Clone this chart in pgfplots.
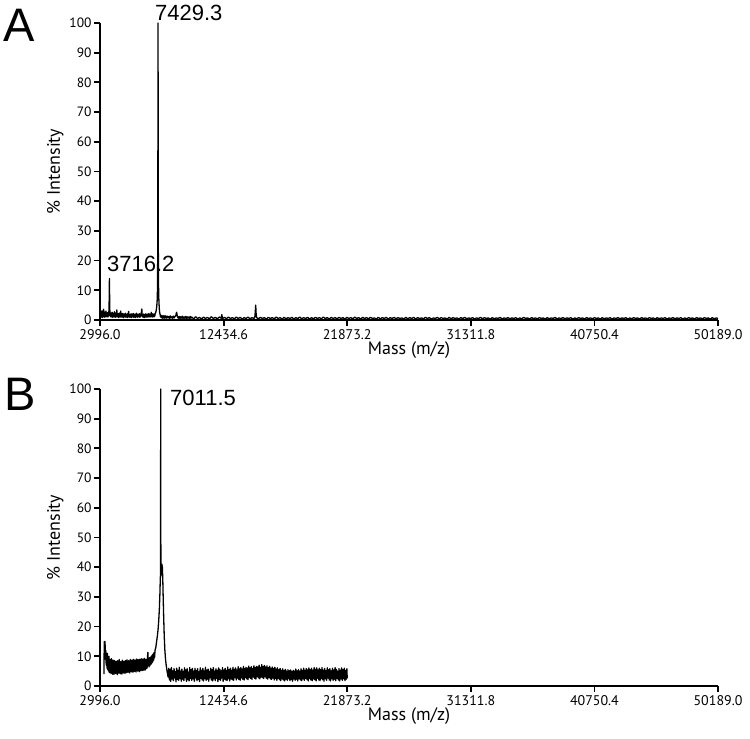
\documentclass[border=0pt]{standalone}
\usepackage{fontspec}
\setmainfont{Liberation Sans}
\newfontfamily\myr{PT Sans}
\usepackage{pgfplots}
\pgfplotsset{compat=1.18}

\pgfplotsset{
  msaxis/.style={
    scale only axis,
    width=618bp, height=297bp,
    anchor=south west,
    axis lines=left,
    axis line style={line width=2bp, -},
    tick style={line width=1.8bp, black},
    tick align=outside,
    major tick length=6bp,
    xmin=2996, xmax=50189,
    ymin=0, ymax=100,
    scaled x ticks=false,
    xtick={2996,12434.6,21873.2,31311.8,40750.4,50189},
    xticklabels={2996.0,12434.6,21873.2,31311.8,40750.4,50189.0},
    ytick={0,10,20,30,40,50,60,70,80,90,100},
    yticklabels={0,10,20,30,40,50,60,70,80,90,100},
    x tick label style={font=\fontsize{14bp}{16bp}\myr, yshift=0bp},
    y tick label style={font=\fontsize{13.5bp}{15bp}\myr, xshift=1bp},
    xlabel={Mass (m/z)},
    ylabel={\% Intensity},
    label style={font=\fontsize{18bp}{20bp}\myr},
    xlabel style={yshift=5bp},
    ylabel style={yshift=-1bp},
    clip=false,
  },
  spec/.style={black, line width=1.3bp, mark=none, line join=round},
}

\begin{document}
\begin{tikzpicture}
\useasboundingbox (0,0) rectangle (750bp,739bp);

\node[anchor=base west, font=\fontsize{47bp}{49bp}\selectfont, inner sep=0] at (3bp,697bp) {A};
\node[anchor=base west, font=\fontsize{47bp}{49bp}\selectfont, inner sep=0] at (4bp,328bp) {B};

% panel A
\begin{axis}[msaxis, at={(100bp,419bp)}]
\addplot[spec] coordinates {
(3000,0.4)(3030,2.1)(3060,0.9)(3090,2.8)(3120,1.2)(3150,3.1)(3180,0.8)(3210,2.4)(3240,1.3)(3270,3.6)
(3300,1.0)(3330,2.2)(3360,0.9)(3390,2.7)(3420,1.4)(3450,3.0)(3480,1.1)(3510,2.0)(3540,1.2)(3570,2.5)
(3600,1.0)(3630,2.3)(3660,1.4)(3690,4.5)(3716,14)(3740,4.0)(3770,1.3)(3800,2.4)(3830,1.0)(3860,2.1)
(3890,1.2)(3920,2.6)(3950,0.9)(3980,2.0)(4010,1.1)(4040,2.3)(4070,1.0)(4100,2.8)(4130,1.2)(4160,2.1)
(4190,0.9)(4220,2.4)(4250,1.3)(4280,3.4)(4310,1.0)(4340,2.0)(4370,1.2)(4400,2.2)(4430,0.8)(4460,1.9)
(4490,1.1)(4520,2.5)(4550,1.0)(4580,3.0)(4610,1.2)(4640,2.0)(4670,0.9)(4700,2.2)(4730,1.1)(4760,1.8)
(4790,0.8)(4820,2.1)(4850,1.0)(4880,1.9)(4910,1.2)(4940,2.3)(4970,0.9)(5000,1.8)(5030,1.1)(5060,2.0)
(5090,0.8)(5120,2.2)(5150,1.0)(5180,2.9)(5210,1.1)(5240,1.8)(5270,0.9)(5300,2.0)(5330,1.2)(5360,1.7)
(5390,0.8)(5420,2.1)(5450,1.0)(5480,1.9)(5510,1.1)(5540,2.2)(5570,0.9)(5600,1.8)(5630,1.2)(5660,2.0)
(5690,0.8)(5720,1.9)(5750,1.0)(5780,2.3)(5810,1.1)(5840,1.7)(5870,0.9)(5900,2.0)(5930,1.2)(5960,1.8)
(5990,1.0)(6020,2.1)(6050,0.9)(6080,1.9)(6110,1.3)(6150,2.4)(6190,3.7)(6220,1.2)(6250,1.8)(6280,0.9)
(6310,2.0)(6340,1.1)(6370,1.7)(6400,0.8)(6430,1.9)(6460,1.0)(6490,2.1)(6520,1.2)(6550,1.8)(6580,0.9)
(6610,2.0)(6640,1.1)(6670,1.7)(6700,1.0)(6730,2.2)(6760,1.1)(6790,1.8)(6820,1.0)(6850,2.0)(6880,1.2)
(6910,2.6)(6940,1.1)(6970,1.9)(7000,1.0)(7030,2.1)(7060,1.2)(7090,1.8)(7120,1.0)(7150,2.0)(7180,1.3)
(7210,2.2)(7250,2.5)(7290,3.2)(7330,4.5)(7360,6.5)(7390,11)(7410,30)(7429,100)(7445,28)(7465,12)
(7490,7)(7520,4.0)(7550,2.6)(7580,2.0)(7610,1.1)(7640,1.6)(7670,0.8)(7700,1.5)(7730,0.7)(7760,1.4)
(7790,0.6)(7820,1.3)(7850,0.7)(7880,1.5)(7910,0.6)(7940,1.2)(7970,0.7)(8000,1.4)(8060,0.6)(8120,1.3)
(8180,0.7)(8240,1.2)(8300,0.5)(8360,1.4)(8420,0.7)(8480,1.1)(8540,0.6)(8600,1.3)(8660,0.7)(8720,1.2)
(8780,1.4)(8820,2.2)(8850,2.6)(8880,1.8)(8920,1.0)(8980,0.6)(9040,1.2)(9100,0.5)(9160,1.1)(9220,0.6)
(9280,1.3)(9340,0.5)(9400,1.0)(9460,0.6)(9520,1.2)(9580,0.5)(9640,1.1)(9700,0.6)(9760,1.0)(9820,0.5)
(9880,1.2)(9940,0.6)(10000,1.0)(10150,0.4)(10300,1.1)(10450,0.5)(10600,0.9)(10750,0.3)(10900,1.0)
(11050,0.5)(11200,0.9)(11350,0.4)(11500,1.1)(11650,0.5)(11800,0.9)(11950,0.4)(12100,1.0)(12250,0.6)
(12300,1.8)(12350,0.5)(12500,0.9)(12650,0.4)(12800,1.0)(12950,0.5)(13100,0.8)(13250,0.4)(13400,1.0)
(13550,0.5)(13700,0.9)(13850,0.3)(14000,0.8)(14150,0.5)(14300,1.0)(14450,0.4)(14600,0.8)(14750,0.5)
(14820,1.0)(14850,2.5)(14886,5.0)(14920,2.0)(14960,0.8)(15100,0.4)(15250,0.9)(15400,0.5)(15550,0.8)
(15700,0.3)(15850,0.9)(16000,0.5)(16150,0.8)(16300,0.4)(16450,1.0)(16600,0.5)(16750,0.8)(16900,0.3)
(17050,0.9)(17200,0.4)(17350,0.8)(17500,0.5)(17650,0.9)(17800,0.3)(17950,0.8)(18100,0.5)(18250,1.0)
(18400,0.4)(18550,0.8)(18700,0.5)(18850,0.9)(19000,0.3)(19150,0.8)(19300,0.4)(19450,0.9)(19600,0.5)
(19750,0.8)(19900,0.4)(20050,1.0)(20200,0.5)(20350,0.8)(20500,0.3)(20650,0.9)(20800,0.5)(20950,0.8)
(21100,0.4)(21250,0.9)(21400,0.5)(21550,0.8)(21700,0.3)(21850,0.9)(22000,0.5)(22150,0.8)(22300,0.4)
(22450,1.0)(22600,0.5)(22750,0.8)(22900,0.3)(23050,0.9)(23200,0.5)(23350,0.8)(23500,0.4)(23650,0.9)
(23800,0.5)(23950,0.7)(24100,0.3)(24250,0.9)(24400,0.4)(24550,0.8)(24700,0.5)(24850,0.9)(25000,0.3)
(25150,0.8)(25300,0.5)(25450,0.9)(25600,0.4)(25750,0.8)(25900,0.5)(26050,0.7)(26200,0.3)(26350,0.9)
(26500,0.4)(26650,0.8)(26800,0.5)(26950,0.9)(27100,0.3)(27250,0.8)(27400,0.5)(27550,0.7)(27700,0.4)
(27850,0.9)(28000,0.5)(28150,0.8)(28300,0.3)(28450,0.7)(28600,0.5)(28750,0.9)(28900,0.4)(29050,0.8)
(29200,0.5)(29350,0.7)(29500,0.3)(29650,0.9)(29800,0.4)(29950,0.8)(30100,0.5)(30250,0.7)(30400,0.3)
(30550,0.8)(30700,0.5)(30850,0.9)(31000,0.4)(31150,0.7)(31300,0.5)(31450,0.8)(31600,0.3)(31750,0.7)
(31900,0.5)(32050,0.9)(32200,0.4)(32350,0.8)(32500,0.5)(32650,0.7)(32800,0.3)(32950,0.8)(33100,0.4)
(33250,0.7)(33400,0.5)(33550,0.9)(33700,0.3)(33850,0.7)(34000,0.5)(34150,0.8)(34300,0.4)(34450,0.7)
(34600,0.5)(34750,0.8)(34900,0.3)(35050,0.7)(35200,0.4)(35350,0.9)(35500,0.5)(35650,0.7)(35800,0.3)
(35950,0.8)(36100,0.5)(36250,0.7)(36400,0.4)(36550,0.8)(36700,0.5)(36850,0.7)(37000,0.3)(37150,0.8)
(37300,0.4)(37450,0.7)(37600,0.5)(37750,0.9)(37900,0.3)(38050,0.7)(38200,0.5)(38350,0.8)(38500,0.4)
(38650,0.7)(38800,0.5)(38950,0.8)(39100,0.3)(39250,0.7)(39400,0.4)(39550,0.8)(39700,0.5)(39850,0.7)
(40000,0.3)(40150,0.8)(40300,0.5)(40450,0.7)(40600,0.4)(40750,0.8)(40900,0.5)(41050,0.7)(41200,0.3)
(41350,0.8)(41500,0.4)(41650,0.7)(41800,0.5)(41950,0.8)(42100,0.3)(42250,0.7)(42400,0.5)(42550,0.8)
(42700,0.4)(42850,0.7)(43000,0.5)(43150,0.8)(43300,0.3)(43450,0.7)(43600,0.4)(43750,0.8)(43900,0.5)
(44050,0.7)(44200,0.3)(44350,0.8)(44500,0.5)(44650,0.7)(44800,0.4)(44950,0.8)(45100,0.5)(45250,0.7)
(45400,0.3)(45550,0.8)(45700,0.4)(45850,0.7)(46000,0.5)(46150,0.8)(46300,0.3)(46450,0.7)(46600,0.5)
(46750,0.8)(46900,0.4)(47050,0.7)(47200,0.5)(47350,0.8)(47500,0.3)(47650,0.7)(47800,0.4)(47950,0.8)
(48100,0.5)(48250,0.7)(48400,0.3)(48550,0.8)(48700,0.5)(48850,0.7)(49000,0.4)(49150,0.8)(49300,0.5)
(49450,0.7)(49600,0.3)(49750,0.8)(49900,0.4)(50050,0.7)(50189,0.5)
};
\node[anchor=base west, font=\fontsize{22bp}{24bp}\selectfont, inner sep=0] at (axis cs:7196,101) {7429.3};
\node[anchor=base west, font=\fontsize{22bp}{24bp}\selectfont, inner sep=0] at (axis cs:3530,16.3) {3716.2};
\end{axis}

% panel B
\begin{axis}[msaxis, at={(100bp,53bp)}]
\addplot[spec] coordinates {
(3300,4.0)(3320,15)(3350,11)(3380,15)(3410,9)(3440,12)(3470,7)(3500,10)(3530,6)(3560,11)
(3590,5.5)(3620,9.5)(3650,5)(3680,10)(3710,4.5)(3740,9)(3770,6)(3800,8.5)(3830,4.2)(3860,9.2)
(3890,5.0)(3920,8.0)(3950,4.0)(3980,8.8)(4010,4.6)(4040,7.9)(4070,3.9)(4100,8.6)(4130,5.1)(4160,7.6)
(4190,4.2)(4220,8.3)(4250,4.8)(4280,7.7)(4310,3.8)(4340,8.5)(4370,4.6)(4400,7.8)(4430,4.3)(4460,8.9)
(4490,5.0)(4520,7.5)(4550,4.1)(4580,8.2)(4610,4.7)(4640,7.9)(4670,4.0)(4700,8.7)(4730,5.2)(4760,7.6)
(4790,4.4)(4820,8.4)(4850,4.9)(4880,7.8)(4910,4.2)(4940,8.6)(4970,5.1)(5000,8.0)(5030,4.5)(5060,8.8)
(5090,5.3)(5120,7.9)(5150,4.6)(5180,8.5)(5210,5.0)(5240,8.1)(5270,4.4)(5300,8.9)(5330,5.4)(5360,8.2)
(5390,4.8)(5420,8.7)(5450,5.2)(5480,8.0)(5510,4.6)(5540,9.0)(5570,5.5)(5600,8.3)(5630,4.9)(5660,8.8)
(5690,5.3)(5720,8.1)(5750,4.7)(5780,9.1)(5810,5.6)(5840,8.4)(5870,5.0)(5900,8.9)(5930,5.4)(5960,8.2)
(5990,4.8)(6020,9.0)(6050,5.5)(6080,8.6)(6110,5.1)(6140,9.2)(6170,5.6)(6200,8.5)(6230,5.2)(6260,9.1)
(6290,5.7)(6320,8.7)(6350,5.3)(6380,9.3)(6410,5.8)(6440,8.8)(6470,5.4)(6500,9.0)(6530,5.9)(6560,8.9)
(6590,6.0)(6620,9.4)(6650,11.3)(6680,7.0)(6710,9.2)(6740,6.4)(6770,9.5)(6800,6.8)(6830,9.6)(6860,7.2)
(6890,9.8)(6920,7.5)(6950,10.2)(6980,7.9)(7010,10.5)(7040,8.3)(7070,10.9)(7100,8.8)(7130,11.3)(7160,9.5)
(7200,12)(7260,13)(7320,15)(7380,17)(7430,19)(7480,22)(7530,26)(7570,31)(7600,36)(7620,38)
(7631,100)(7645,37)(7680,39)(7720,41)(7760,40)(7790,36)(7820,30)(7860,23)(7900,17)(7950,12)
(8000,9)(8050,7)(8100,5.5)(8150,4.2)
(8200,3.0)(8250,6.0)(8300,2.0)(8350,5.6)(8400,1.5)(8450,6.2)(8500,2.4)(8550,5.1)(8600,1.8)(8650,5.9)
(8700,2.7)(8750,4.8)(8800,1.4)(8850,6.0)(8900,2.2)(8950,5.3)(9000,1.9)(9050,6.3)(9100,2.6)(9150,5.0)
(9200,1.6)(9250,5.7)(9300,2.3)(9350,4.9)(9400,1.8)(9450,6.1)(9500,2.8)(9550,5.4)(9600,1.5)(9650,5.8)
(9700,2.1)(9750,4.7)(9800,1.7)(9850,6.2)(9900,2.5)(9950,5.5)(10000,1.9)(10050,5.9)(10100,2.4)(10150,5.0)
(10200,1.6)(10250,6.0)(10300,2.7)(10350,5.2)(10400,1.8)(10450,5.8)(10500,2.2)(10550,4.8)(10600,1.5)(10650,6.1)
(10700,2.6)(10750,5.3)(10800,2.0)(10850,5.9)(10900,1.7)(10950,5.1)(11000,2.5)(11050,6.3)(11100,1.9)(11150,5.4)
(11200,2.3)(11250,5.7)(11300,1.6)(11350,4.9)(11400,2.8)(11450,6.0)(11500,2.0)(11550,5.5)(11600,1.7)(11650,6.2)
(11700,2.4)(11750,5.0)(11800,1.8)(11850,5.8)(11900,2.6)(11950,5.3)(12000,1.5)(12050,6.1)(12100,2.2)(12150,5.6)
(12200,1.9)(12250,5.1)(12300,2.7)(12350,6.2)(12400,1.6)(12450,5.4)(12500,2.3)(12550,5.9)(12600,2.0)(12650,5.2)
(12700,1.8)(12750,6.4)(12800,2.5)(12850,5.5)(12900,1.7)(12950,6.0)(13000,2.4)(13050,5.3)(13100,2.1)(13150,6.3)
(13200,1.9)(13250,5.6)(13300,2.8)(13350,6.1)(13400,2.0)(13450,5.4)(13500,2.6)(13550,6.5)(13600,2.2)(13650,5.8)
(13700,1.9)(13750,6.2)(13800,2.7)(13850,5.7)(13900,2.3)(13950,6.6)(14000,2.0)(14050,5.9)(14100,2.8)(14150,6.3)
(14200,2.4)(14250,6.0)(14300,2.1)(14350,6.7)(14400,2.9)(14450,6.1)(14500,2.5)(14550,6.5)(14600,2.2)(14650,5.9)
(14700,3.0)(14750,6.8)(14800,2.6)(14850,6.2)(14900,2.3)(14950,6.6)(15000,3.1)(15050,6.4)(15100,2.7)(15150,7.0)
(15200,2.4)(15250,6.3)(15300,3.0)(15350,7.2)(15400,2.8)(15450,6.5)(15500,2.5)(15550,6.9)(15600,3.1)(15650,6.4)
(15700,2.6)(15750,6.8)(15800,2.3)(15850,6.2)(15900,2.9)(15950,6.6)(16000,2.4)(16050,6.0)(16100,2.2)(16150,6.4)
(16200,2.7)(16250,5.9)(16300,2.0)(16350,6.3)(16400,2.5)(16450,5.7)(16500,1.9)(16550,6.1)(16600,2.6)(16650,5.5)
(16700,2.1)(16750,5.9)(16800,1.8)(16850,5.3)(16900,2.4)(16950,5.8)(17000,2.0)(17050,5.2)(17100,1.7)(17150,5.6)
(17200,2.3)(17250,5.0)(17300,1.9)(17350,5.5)(17400,2.5)(17450,5.1)(17500,1.8)(17550,5.4)(17600,2.2)(17650,4.9)
(17700,1.6)(17750,5.3)(17800,2.4)(17850,5.0)(17900,1.9)(17950,5.7)(18000,2.3)(18050,5.1)(18100,1.7)(18150,5.5)
(18200,2.5)(18250,5.0)(18300,2.0)(18350,5.8)(18400,1.8)(18450,5.2)(18500,2.4)(18550,6.0)(18600,1.9)(18650,5.3)
(18700,2.6)(18750,5.9)(18800,2.1)(18850,5.4)(18900,1.7)(18950,6.1)(19000,2.5)(19050,5.5)(19100,2.0)(19150,6.0)
(19200,1.8)(19250,5.3)(19300,2.4)(19350,6.2)(19400,2.1)(19450,5.6)(19500,1.7)(19550,6.1)(19600,2.6)(19650,5.4)
(19700,2.0)(19750,6.0)(19800,1.8)(19850,5.5)(19900,2.5)(19950,6.2)(20000,2.1)(20050,5.3)(20100,1.6)(20150,5.9)
(20200,2.4)(20250,5.2)(20300,1.9)(20350,6.1)(20400,2.7)(20450,5.5)(20500,2.0)(20550,5.8)(20600,1.7)(20650,5.1)
(20700,2.5)(20750,6.0)(20800,1.9)(20850,5.4)(20900,2.3)(20950,6.2)(21000,1.8)(21050,5.6)(21100,2.6)(21150,5.0)
(21200,2.0)(21250,5.9)(21300,1.7)(21350,5.3)(21400,2.4)(21450,6.1)(21500,1.9)(21550,5.5)(21600,2.5)(21650,6.0)
(21700,1.8)(21750,5.2)(21800,2.3)(21850,5.8)(21873,2.6)
};
\node[anchor=base west, font=\fontsize{22bp}{24bp}\selectfont, inner sep=0] at (axis cs:8342,94.3) {7011.5};
\end{axis}
\end{tikzpicture}
\end{document}
